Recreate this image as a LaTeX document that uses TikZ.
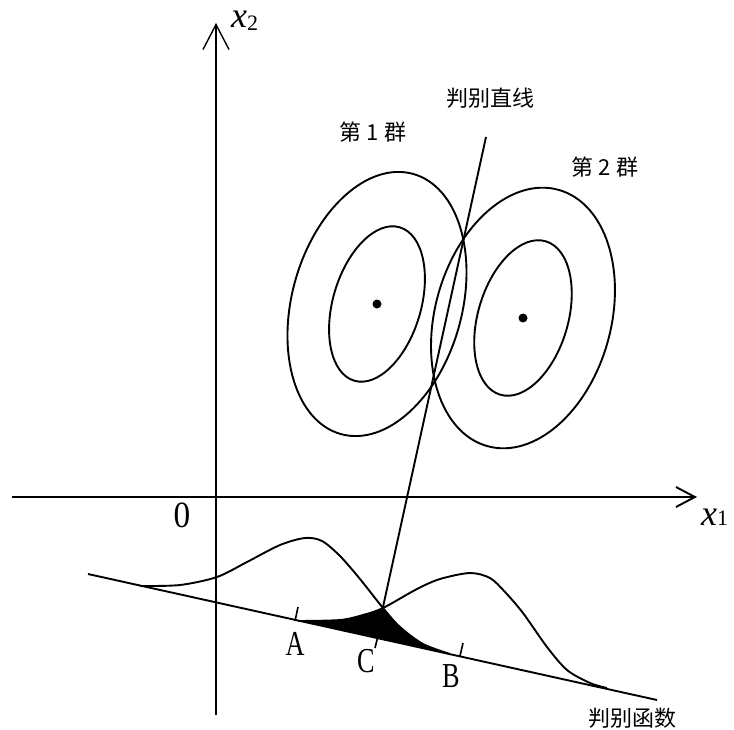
\documentclass[tikz,border=0pt]{standalone}
\usepackage{fontspec}
\setmainfont{Liberation Serif}
\newfontfamily\cjk{Noto Sans CJK SC}
\usetikzlibrary{arrows.meta}
\begin{document}
\begin{tikzpicture}[x=1pt,y=-1pt,
  curve/.style={line width=1.9pt, line join=round},
  axisline/.style={line width=1.9pt},
  cjklab/.style={font=\cjk\fontsize{22}{22}\selectfont, inner sep=0pt, anchor=base},
  letlab/.style={font=\fontsize{35}{35}\selectfont, inner sep=0pt, anchor=base, xscale=0.75},
  dot/.style={fill=black},
]
\useasboundingbox (0,0) rectangle (734,729);
% axes
\coordinate (xs) at (12,497);
\coordinate (xe) at (697,497);
\coordinate (ys) at (216,715);
\coordinate (ye) at (216,23);
\draw[axisline, -{Straight Barb[length=19pt,width=20pt,line width=1.9pt]}] (xs) -- (xe);
\draw[line width=1.4pt, -{Straight Barb[length=25pt,width=26pt,line width=1.4pt]}] (ys) -- (ye);
\node[inner sep=0pt, anchor=base west] (lx1) at (701,525)
  {\fontsize{36}{36}\selectfont\itshape x\upshape\fontsize{22}{22}\selectfont 1};
\node[inner sep=0pt, anchor=base west] (lx2) at (231,27)
  {\fontsize{36}{36}\selectfont\itshape x\upshape\fontsize{22}{22}\selectfont\raisebox{-3pt}{2}};
\node[inner sep=0pt, anchor=base, font=\fontsize{37}{37}\selectfont, xscale=0.9] (lo) at (182,527) {0};
% clusters
\coordinate (c1) at (377,304);
\coordinate (c2) at (523,318);
\draw[curve, rotate around={-15.5:(c1)}] (c1) ellipse [x radius=85pt, y radius=135pt];
\draw[curve, rotate around={-16.5:(c1)}] (c1) ellipse [x radius=44pt, y radius=80pt];
\draw[curve, rotate around={-15.5:(c2)}] (c2) ellipse [x radius=88pt, y radius=133pt];
\draw[curve, rotate around={-16.5:(c2)}] (c2) ellipse [x radius=45pt, y radius=80pt];
\fill[dot] (c1) circle [radius=4.5pt];
\fill[dot] (c2) circle [radius=4.5pt];
\node[cjklab] (g1) at (373,140) {第 1 群};
\node[cjklab] (g2) at (605,175) {第 2 群};
\node[cjklab] (dlab) at (490,106) {判别直线};
% discriminant line
\coordinate (dtop) at (486,137);
\coordinate (C) at (383,607);
\draw[curve] (dtop) -- (C);
% black overlap region
\begin{scope}
  \clip plot[smooth] coordinates {(140,586) (180,585) (217,577) (247,562) (280,545) (305,538) (322,541) (340,556) (360,579) (383,608) (400,627) (423,644) (450,654)} -- cycle;
  \fill plot[smooth] coordinates {(298,621) (340,620) (363,615) (383,608) (417,589) (440,579) (470,573) (490,578) (505,592) (523,613) (547,647) (567,670) (590,683) (607,688)} -- cycle;
\end{scope}
% discriminant function line
\coordinate (bl) at (88,574);
\coordinate (br) at (657,700);
\draw[curve] (bl) -- (br);
% distribution curves
\draw[curve] plot[smooth] coordinates {(140,586) (180,585) (217,577) (247,562) (280,545) (305,538) (322,541) (340,556) (360,579) (383,608) (400,627) (423,644) (450,654)};
\draw[curve] plot[smooth] coordinates {(298,621) (340,620) (363,615) (383,608) (417,589) (440,579) (470,573) (490,578) (505,592) (523,613) (547,647) (567,670) (590,683) (607,688)};
% ticks
\coordinate (ta1) at (295,621); \coordinate (ta2) at (298,607);
\coordinate (tc1) at (380,628); \coordinate (tc2) at (375,648);
\coordinate (tb1) at (460,656); \coordinate (tb2) at (463,643);
\draw[line width=1.6pt] (ta1) -- (ta2);
\draw[line width=1.6pt] (tc1) -- (tc2);
\draw[line width=1.6pt] (tb1) -- (tb2);
\node[letlab] (la) at (295,655) {A};
\node[letlab] (lc) at (366,672) {C};
\node[letlab] (lb) at (451,687) {B};
\node[cjklab] (flab) at (632,726) {判别函数};
\end{tikzpicture}
\end{document}
